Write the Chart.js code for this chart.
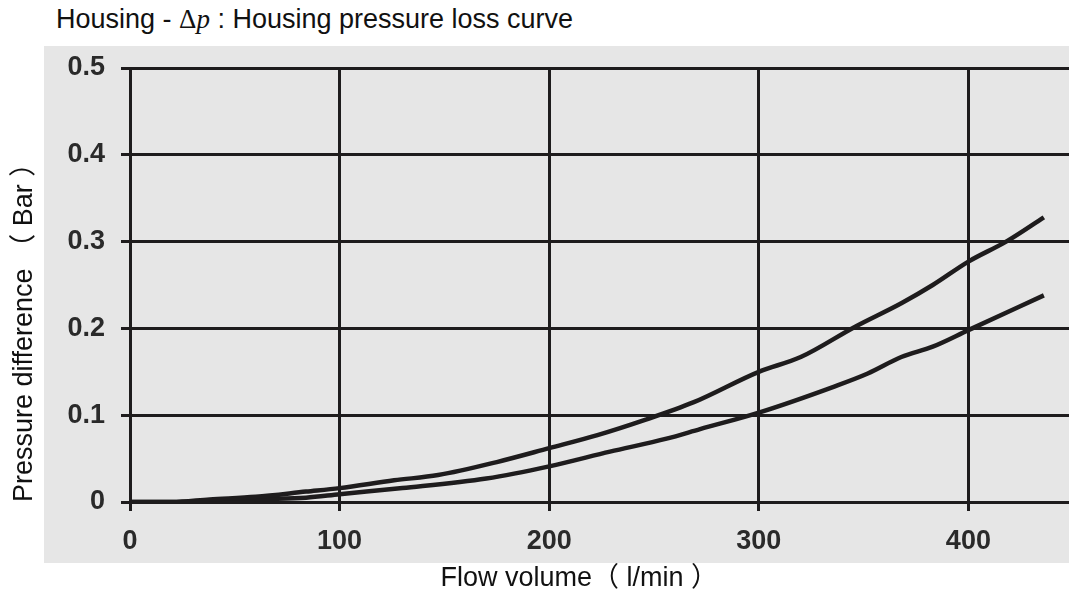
<!DOCTYPE html>
<html lang="en">
<head>
  <meta charset="UTF-8" />
  <title>Housing pressure loss curve</title>
  <script src="https://cdn.jsdelivr.net/npm/chart.js"></script>
  <style>
    body {
      margin: 0;
      background: #fff;
      font-family: Arial, 'Liberation Sans', sans-serif;
    }
    .wrap {
      position: relative;
      width: 1069px;
      height: 596px;
    }
    .panel {
      position: absolute;
      left: 44px;
      top: 46px;
      width: 1025px;
      height: 517px;
      background: #e6e6e6;
    }
    .title {
      position: absolute;
      left: 56px;
      top: 4px;
      font-size: 27px;
      color: #111;
      white-space: nowrap;
    }
    .title span {
      font-family: 'Liberation Serif', 'DejaVu Serif', serif;
    }
    canvas {
      position: absolute;
      left: 0;
      top: 0;
    }
  </style>
</head>
<body>

  <div class="wrap">
    <div class="panel"></div>
    <div class="title">Housing - <span>&Delta;<i>p</i></span> : Housing pressure loss curve</div>
    <canvas id="chart" width="1069" height="596"></canvas>
  </div>

  <script>
    const flowUpper = [0, 20, 38, 60, 84, 100, 126, 147, 175, 200, 223, 245, 269, 300, 320, 346, 368, 383, 400, 418, 436];
    const dpUpper   = [0, 0, 0.003, 0.006, 0.012, 0.016, 0.025, 0.031, 0.046, 0.062, 0.077, 0.094, 0.115, 0.150, 0.167, 0.202, 0.229, 0.250, 0.277, 0.300, 0.328];

    const flowLower = [0, 20, 40, 60, 84, 100, 130, 170, 200, 229, 256, 272, 300, 336, 352, 368, 383, 400, 436];
    const dpLower   = [0, 0, 0, 0.003, 0.005, 0.009, 0.016, 0.027, 0.041, 0.058, 0.073, 0.084, 0.103, 0.133, 0.148, 0.167, 0.179, 0.198, 0.238];

    const xTicks = [0, 100, 200, 300, 400];
    const yTicks = [0, 0.1, 0.2, 0.3, 0.4, 0.5];

    const ink = '#1e1c1d';

    function points(xs, ys) {
      return xs.map((x, i) => ({ x: x, y: ys[i] }));
    }

    const tickFont = { family: 'Arial, "Liberation Sans", sans-serif', size: 27, weight: 'bold' };
    const titleFont = { family: 'Arial, "Liberation Sans", "Noto Sans CJK SC", sans-serif', size: 27 };

    new Chart(document.getElementById('chart'), {
      type: 'line',
      data: {
        datasets: [
          {
            label: 'upper',
            data: points(flowUpper, dpUpper),
            borderColor: ink,
            borderWidth: 4.5,
            pointRadius: 0,
            cubicInterpolationMode: 'monotone',
            fill: false
          },
          {
            label: 'lower',
            data: points(flowLower, dpLower),
            borderColor: ink,
            borderWidth: 4.5,
            pointRadius: 0,
            cubicInterpolationMode: 'monotone',
            fill: false
          }
        ]
      },
      options: {
        responsive: false,
        animation: false,
        layout: { padding: { top: 68, right: 0, bottom: 0, left: 0 } },
        plugins: {
          legend: { display: false },
          tooltip: { enabled: false }
        },
        scales: {
          x: {
            type: 'linear',
            min: 0,
            max: 448,
            afterBuildTicks: s => { s.ticks = xTicks.map(v => ({ value: v })); },
            afterFit: s => { s.height = 94; },
            grid: { color: ink, lineWidth: 3, tickLength: 9 },
            border: { color: ink, width: 3 },
            ticks: { color: '#2a2a2a', font: tickFont, padding: 14 },
            title: {
              display: true,
              text: 'Flow volume（ l/min ）\u3000\u3000',
              color: '#111',
              font: titleFont,
              padding: { top: 0, bottom: 1 }
            }
          },
          y: {
            type: 'linear',
            min: 0,
            max: 0.5,
            afterBuildTicks: s => { s.ticks = yTicks.map(v => ({ value: v })); },
            afterFit: s => { s.width = 130; },
            grid: { color: ink, lineWidth: 3, tickLength: 9 },
            border: { color: ink, width: 3 },
            ticks: {
              color: '#2a2a2a',
              font: tickFont,
              padding: 16,
              callback: v => (v === 0 ? '0' : v.toFixed(1))
            },
            title: {
              display: true,
              text: 'Pressure difference （ Bar ）',
              align: 'start',
              color: '#111',
              font: titleFont,
              padding: { top: 8, bottom: 0 }
            }
          }
        }
      }
    });
  </script>

</body>
</html>
